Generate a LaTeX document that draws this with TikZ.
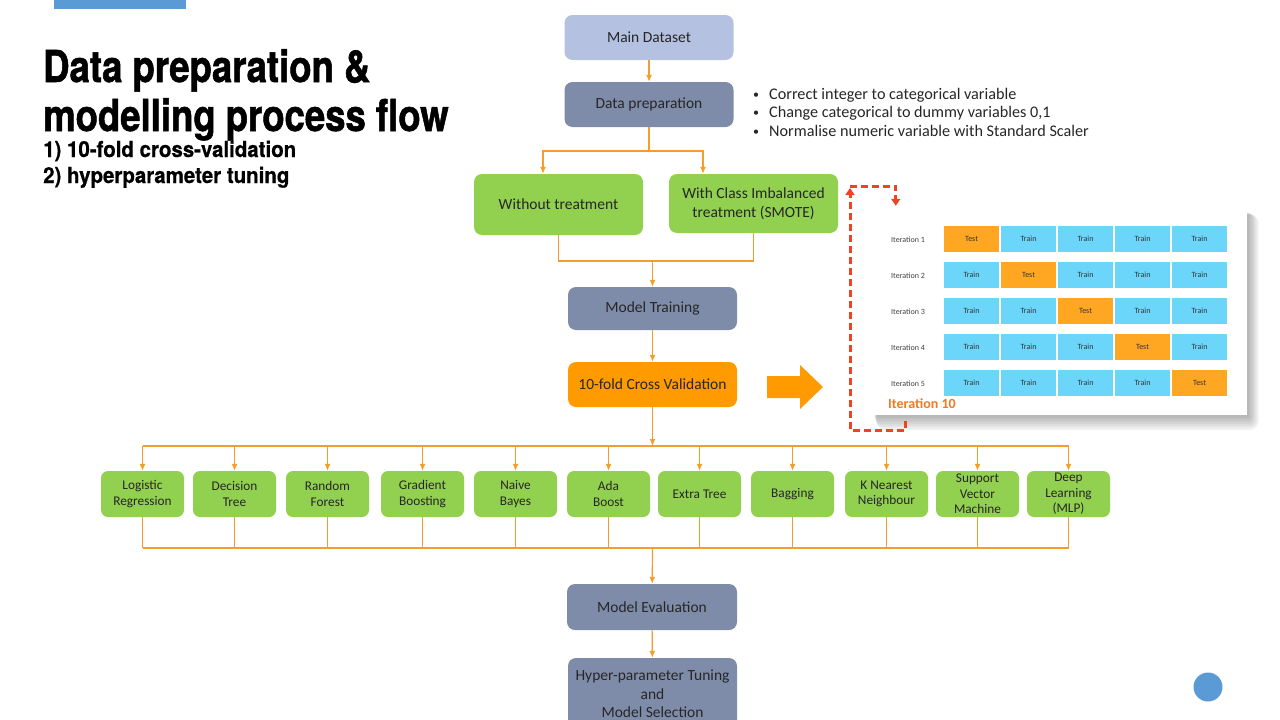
\documentclass[tikz,border=0pt]{standalone}
\usepackage{fontspec}
\setmainfont{Carlito}
\newfontfamily\titlefont{TeX Gyre Heros}[FakeStretch=0.83, FakeBold=1.2]
\newfontfamily\subfont{TeX Gyre Heros}[FakeStretch=0.93, FakeBold=0.6]
\usetikzlibrary{arrows.meta, positioning}
\usepackage{xcolor}

\definecolor{accent}{HTML}{5B9BD5}
\definecolor{dsblue}{HTML}{B4C1E1}
\definecolor{slate}{HTML}{7F8CA9}
\definecolor{leafgreen}{HTML}{92D050}
\definecolor{cvor}{HTML}{FF9A00}
\definecolor{lineor}{HTML}{F59D2A}
\definecolor{trainbl}{HTML}{6BD6FA}
\definecolor{testor}{HTML}{FFA722}
\definecolor{loopred}{HTML}{EE4423}
\definecolor{itor}{HTML}{EE7B22}

\newcommand{\bul}{\makebox[16pt][l]{\raisebox{1pt}{\fontsize{12}{12}\selectfont\textbullet}}}

\begin{document}
\begin{tikzpicture}[x=1pt, y=-1pt,
      proc/.style={rounded corners=8pt, minimum width=169pt, minimum height=45pt, align=center, inner sep=2pt, text=black!85, font=\fontsize{15.5}{18.5}\selectfont},
      grn/.style={proc, fill=leafgreen},
      mdl/.style={rounded corners=7pt, fill=leafgreen, minimum width=83pt, minimum height=46pt, align=center, inner sep=1pt, text=black!85, font=\fontsize{13.3}{15.5}\selectfont},
      cell/.style={minimum width=55pt, minimum height=26pt, inner sep=0pt, text=black!80, font=\fontsize{8}{9}\selectfont},
      itlabel/.style={anchor=west, inner sep=0pt, text=black!75, font=\fontsize{8}{9}\selectfont},
      conn/.style={draw=lineor, line width=1.2pt},
      arr/.style={conn, -{Latex[length=7pt, width=6pt]}},
      loopln/.style={draw=loopred, line width=3pt, dash pattern=on 7pt off 4pt, -{Triangle[length=7pt, width=9pt]}}
    ]
    \useasboundingbox (0,0) rectangle (1280,720);
    \clip (0,0) rectangle (1280,720);

    % slide decoration
    \fill[accent] (54,0) rectangle (186,9);
    \fill[accent] (1208,687) circle (14.5pt);

    % title
    \node[anchor=base west, inner sep=0pt, font=\titlefont\bfseries\fontsize{44}{44}\selectfont] (title1) at (43,82) {Data preparation \&};
    \node[anchor=base west, inner sep=0pt, font=\titlefont\bfseries\fontsize{44}{44}\selectfont] (title2) at (43,131) {modelling process flow};
    \node[anchor=base west, inner sep=0pt, font=\subfont\bfseries\fontsize{22}{22}\selectfont] (sub1) at (43,157) {1) 10-fold cross-validation};
    \node[anchor=base west, inner sep=0pt, font=\subfont\bfseries\fontsize{22}{22}\selectfont] (sub2) at (43,183) {2) hyperparameter tuning};

    % main flow
    \node[proc, fill=dsblue] (ds) at (649,37.5) {Main Dataset};
    \node[proc, fill=slate] (prep) at (649,104.5) {Data preparation};
    \node[anchor=west, inner sep=0pt, align=left, text=black!85, font=\fontsize{16.2}{18.5}\selectfont] (notes) at (753,112)
      {\bul Correct integer to categorical variable\\
       \bul Change categorical to dummy variables 0,1\\
       \bul Normalise numeric variable with Standard Scaler};
    \node[grn, minimum height=61pt] (wo) at (558.5,204.5) {Without treatment};
    \node[grn, minimum height=59pt] (smote) at (753.5,203.5) {With Class Imbalanced\\treatment (SMOTE)};
    \node[proc, fill=slate, minimum height=43pt] (train) at (652.5,308.5) {Model Training};
    \node[proc, fill=cvor] (cv) at (652.5,384.5) {10-fold Cross Validation};

    \coordinate (split) at (649,151);
    \coordinate (merge) at (652.5,261);
    \coordinate (bustop) at (652.5,446);
    \coordinate (busbot) at (652.5,548);

    \draw[arr] (ds) -- (prep);
    \draw[conn] (prep) -- (split);
    \draw[arr] (split) -| ([xshift=-15.5pt]wo.north);
    \draw[arr] (split) -| ([xshift=-50.5pt]smote.north);
    \draw[conn] (wo) |- (merge);
    \draw[conn] (smote) |- (merge);
    \draw[arr] (merge) -- (train);
    \draw[arr] (train) -- (cv);
    \draw[arr] (cv) -- (bustop);

    % models
    \foreach \nm/\cx/\txt in {lr/142.5/{Logistic\\Regression}, dt/234.5/{Decision\\Tree}, rf/327.5/{Random\\Forest},
        gb/422.5/{Gradient\\Boosting}, nb/515.5/{Naive\\Bayes}, ab/608.5/{Ada\\Boost}, et/699.5/{Extra Tree},
        bg/792.5/{Bagging}, knn/886.5/{K Nearest\\Neighbour}, svm/977.5/{Support\\Vector\\Machine}, dl/1068.5/{Deep\\Learning\\(MLP)}}{
      \node[mdl] (\nm) at (\cx,494) {\txt};
      \draw[arr] (\nm.north |- bustop) -- (\nm.north);
      \draw[conn] (\nm.south) -- (\nm.south |- busbot);
    }
    \draw[conn] (lr.north |- bustop) -- (dl.north |- bustop);
    \draw[conn] (lr.south |- busbot) -- (dl.south |- busbot);

    \node[proc, fill=slate, minimum width=170pt, minimum height=46pt] (eval) at (652,607) {Model Evaluation};
    \node[proc, fill=slate, minimum height=72pt] (tune) at (652.5,694) {Hyper-parameter Tuning\\and\\Model Selection};
    \draw[arr] (busbot) -- (eval);
    \draw[arr] (eval) -- (tune);

    % arrow to the folds
    \fill[cvor] (767,376) -- (800,376) -- (800,365) -- (823,387) -- (800,409) -- (800,398) -- (767,398) -- cycle;

    % folds panel, soft shadow first
    \foreach \k in {1,...,9}
      \fill[black, opacity=0.035, rounded corners=\k pt] (874+0.3*\k,212+0.3*\k) rectangle (1248+1.2*\k,416+1.6*\k);
    \node[fill=white, minimum width=375pt, minimum height=207pt, inner sep=0pt] (panel) at (1059.5,311.5) {};
    \foreach \r in {1,...,5}{
      \node[itlabel] (it\r) at (891,204+36*\r) {Iteration \r};
      \foreach \c in {1,...,5}{
        \ifnum\r=\c
          \node[cell, fill=testor] (c\r\c) at (914.5+57*\c,203+36*\r) {Test};
        \else
          \node[cell, fill=trainbl] (c\r\c) at (914.5+57*\c,203+36*\r) {Train};
        \fi
      }
    }
    \node[anchor=west, inner sep=0pt, text=itor, font=\bfseries\fontsize{14}{16}\selectfont] (it10) at (888,404) {Iteration 10};

    % repeat loop
    \coordinate (lpbot) at (850,430);
    \coordinate (lptop) at (850,186);
    \draw[loopln] ([xshift=34pt, yshift=-6pt]panel.south west) |- (lpbot) -- ([yshift=-2pt]lptop);
    \draw[loopln] (lptop) -| ([xshift=24pt, yshift=2pt]panel.north west);
  \end{tikzpicture}
\end{document}
